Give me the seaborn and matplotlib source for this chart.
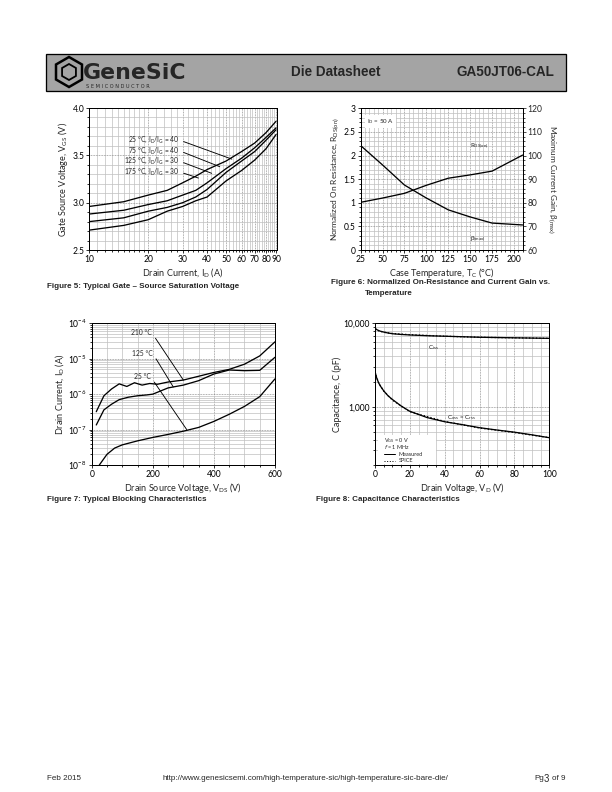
import numpy as np
import pandas as pd
import matplotlib
matplotlib.use('Agg')
import matplotlib.pyplot as plt
import matplotlib.ticker as mticker
from matplotlib.patches import Rectangle, RegularPolygon
import seaborn as sns

#---------------data----------------------------------------
# Figure 5: gate-source saturation voltage vs drain current
id_amps = [10, 15, 20, 25, 30, 35, 40, 50, 60, 70, 80, 90]
vgs_25c = [2.96, 3.01, 3.08, 3.13, 3.21, 3.28, 3.35, 3.44, 3.54, 3.63, 3.74, 3.86]
vgs_75c = [2.88, 2.92, 2.98, 3.02, 3.08, 3.13, 3.21, 3.36, 3.47, 3.58, 3.69, 3.79]
vgs_125c = [2.80, 2.84, 2.91, 2.95, 3.00, 3.06, 3.14, 3.32, 3.44, 3.54, 3.66, 3.77]
vgs_175c = [2.71, 2.76, 2.82, 2.91, 2.96, 3.02, 3.06, 3.23, 3.34, 3.45, 3.57, 3.72]
fig5_labels = ['25 °C, I$_D$/I$_G$ = 40', '75 °C, I$_D$/I$_G$ = 40',
               '125 °C, I$_D$/I$_G$ = 30', '175 °C, I$_D$/I$_G$ = 30']

# Figure 6: normalized on-resistance and current gain vs temperature
case_temp = [25, 50, 75, 100, 125, 150, 175, 210]
rds_on_norm = [1.01, 1.10, 1.20, 1.37, 1.52, 1.59, 1.67, 2.01]
beta_max = [104.2, 96.0, 87.5, 82.0, 77.0, 74.0, 71.4, 70.6]

# Figure 7: blocking characteristics
vds_210 = [15, 40, 65, 90, 115, 140, 165, 190, 215, 250, 300, 350, 400, 450, 500, 550, 600]
id_210 = [3.2e-7, 9e-7, 1.4e-6, 1.95e-6, 1.65e-6, 2.1e-6, 1.8e-6, 2.0e-6, 1.9e-6,
          2.2e-6, 2.5e-6, 3.2e-6, 4.1e-6, 5.0e-6, 7.0e-6, 1.2e-5, 3.0e-5]
vds_125 = [15, 40, 65, 90, 120, 150, 180, 200, 250, 300, 350, 400, 450, 500, 550, 600]
id_125 = [1.35e-7, 3.6e-7, 5.2e-7, 7e-7, 8.2e-7, 9e-7, 9.5e-7, 1.0e-6, 1.5e-6,
          1.8e-6, 2.4e-6, 3.7e-6, 4.8e-6, 4.6e-6, 4.7e-6, 1.1e-5]
vds_25 = [25, 50, 75, 100, 150, 200, 250, 300, 350, 400, 450, 500, 550, 600]
id_25 = [1e-8, 2e-8, 3e-8, 3.7e-8, 4.8e-8, 6e-8, 7.3e-8, 9e-8, 1.15e-7, 1.7e-7,
         2.7e-7, 4.5e-7, 8.5e-7, 2.7e-6]

# Figure 8: capacitance vs drain voltage
vd = [0, 1, 2, 3, 5, 7.5, 10, 15, 20, 30, 40, 50, 60, 70, 80, 90, 100]
ciss_meas = [8700, 8400, 8200, 8050, 7850, 7650, 7500, 7350, 7250, 7100, 7000, 6900, 6800, 6750, 6700, 6650, 6600]
coss_meas = [2650, 2200, 1950, 1780, 1550, 1350, 1220, 1020, 880, 740, 660, 610, 560, 525, 495, 460, 425]
vd_spice = [0, 2, 5, 10, 20, 40, 60, 80, 100]
ciss_spice = [8650, 8150, 7800, 7550, 7300, 7000, 6800, 6700, 6600]
coss_spice = [2600, 1950, 1540, 1200, 870, 665, 555, 490, 425]

#---------------style-----------------
sns.set_style('ticks')
plt.rcParams['font.family'] = ['Lato', 'DejaVu Sans']
plt.rcParams['mathtext.default'] = 'regular'

W, H = 612, 792
fig = plt.figure(figsize=(W / 72, H / 72), dpi=72)


def box(l, t, r, b):
    # pixel box (top-left origin) -> figure fraction
    return [l / W, 1 - b / H, (r - l) / W, (b - t) / H]


def ftext(x, y, s, **kw):
    fig.text(x / W, 1 - y / H, s, **kw)


def style_axes(ax):
    for s in ax.spines.values():
        s.set_color('black')
        s.set_linewidth(1.0)
    ax.tick_params(which='both', direction='out', width=0.8, labelsize=8.5, pad=2, colors='black')
    ax.tick_params(which='major', length=3)
    ax.tick_params(which='minor', length=2)
    ax.grid(which='minor', color='#c0c0c0', lw=0.7, ls='-')
    ax.grid(which='major', color='#888888', lw=0.8, ls=(0, (1, 1)))
    ax.set_axisbelow(True)


line_kw = dict(color='black', lw=1.3, legend=False)
lbl_kw = dict(fontsize=9, labelpad=2)
cap_kw = dict(fontsize=8, fontweight='bold', family='Liberation Sans', va='center')
note = 6.8

#---------------header-----------------
ax_bg = fig.add_axes([0, 0, 1, 1], zorder=-5)
ax_bg.set_xlim(0, W)
ax_bg.set_ylim(H, 0)
ax_bg.axis('off')
ax_bg.add_patch(Rectangle((46, 54), 520, 37, facecolor='#a4a4a4', edgecolor='black', lw=1.3))
ax_bg.add_patch(RegularPolygon((69, 72), 6, radius=15, facecolor='none', edgecolor='black', lw=2.5))
ax_bg.add_patch(RegularPolygon((69, 72), 6, radius=8, facecolor='none', edgecolor='black', lw=1.8))
ftext(83, 73, 'GeneSiC', fontsize=22, fontweight='bold', family='DejaVu Sans', va='center')
ftext(86, 87, 'S E M I C O N D U C T O R', fontsize=5, family='DejaVu Sans', va='center')
ftext(336, 72, 'Die Datasheet', fontsize=13.5, fontweight='bold', family='Liberation Sans', ha='center', va='center')
ftext(554, 72, 'GA50JT06-CAL', fontsize=13.5, fontweight='bold', family='Liberation Sans', ha='right', va='center')

#---------------figure 5-----------------
ax5 = fig.add_axes(box(89.3, 108, 277, 250))
df5 = pd.DataFrame({'I_D': id_amps, '25': vgs_25c, '75': vgs_75c, '125': vgs_125c, '175': vgs_175c})
for col in ['25', '75', '125', '175']:
    sns.lineplot(data=df5, x='I_D', y=col, ax=ax5, **line_kw)
ax5.set_xscale('log')
ax5.set_xlim(10, 91)
ax5.set_ylim(2.5, 4.0)
ax5.xaxis.set_major_locator(mticker.FixedLocator([10, 20, 30, 40, 50, 60, 70, 80, 90]))
ax5.xaxis.set_major_formatter(mticker.FixedFormatter(['10', '20', '30', '40', '50', '60', '70', '80', '90']))
minor5 = [v for v in list(range(11, 20)) + list(range(22, 91, 2)) if v % 10]
ax5.xaxis.set_minor_locator(mticker.FixedLocator(minor5))
ax5.xaxis.set_minor_formatter(mticker.NullFormatter())
ax5.yaxis.set_major_locator(mticker.MultipleLocator(0.5))
ax5.yaxis.set_minor_locator(mticker.MultipleLocator(0.1))
ax5.yaxis.set_major_formatter(mticker.FormatStrFormatter('%.1f'))
style_axes(ax5)
ax5.set_xlabel('Drain Current, I$_D$ (A)', **lbl_kw)
ax5.set_ylabel('Gate Source Voltage, V$_{GS}$ (V)', **lbl_kw)

lab_y5 = [3.662, 3.549, 3.44, 3.327]
end_pts5 = [(53.5, 3.46), (46.4, 3.38), (42.2, 3.31), (36.1, 3.26)]
for lab, ly, (ex, ey) in zip(fig5_labels, lab_y5, end_pts5):
    ax5.annotate(lab, xy=(ex, ey), xytext=(28.8, ly), fontsize=note, ha='right', va='center',
                 arrowprops=dict(arrowstyle='-', lw=0.9, color='black', relpos=(1, 0.5),
                                 shrinkA=2, shrinkB=0))

ftext(47, 287, 'Figure 5: Typical Gate – Source Saturation Voltage', **cap_kw)

#---------------figure 6-----------------
ax6 = fig.add_axes(box(360.7, 108.3, 522.7, 250))
ax6b = ax6.twinx()
df6 = pd.DataFrame({'T_C': case_temp, 'R_DS(on)': rds_on_norm, 'beta': beta_max})
sns.lineplot(data=df6, x='T_C', y='R_DS(on)', ax=ax6, **line_kw)
sns.lineplot(data=df6, x='T_C', y='beta', ax=ax6b, **line_kw)
ax6.set_xlim(25, 210)
ax6.set_ylim(0, 3)
ax6b.set_ylim(60, 120)
ax6.xaxis.set_major_locator(mticker.FixedLocator([25, 50, 75, 100, 125, 150, 175, 200]))
ax6.xaxis.set_minor_locator(mticker.MultipleLocator(5))
ax6.yaxis.set_major_locator(mticker.MultipleLocator(0.5))
ax6.yaxis.set_minor_locator(mticker.MultipleLocator(0.1))
ax6.yaxis.set_major_formatter(mticker.FormatStrFormatter('%g'))
ax6b.yaxis.set_major_locator(mticker.MultipleLocator(10))
ax6b.yaxis.set_minor_locator(mticker.MultipleLocator(2))
style_axes(ax6)
ax6b.tick_params(which='both', direction='out', width=0.8, labelsize=8.5, pad=2)
ax6b.tick_params(which='major', length=3)
ax6b.tick_params(which='minor', length=2)
ax6b.grid(False)
for s in ax6b.spines.values():
    s.set_color('black')
    s.set_linewidth(1.0)
ax6.set_xlabel('Case Temperature, T$_C$ (°C)', **lbl_kw)
ax6.set_ylabel('Normalized On Resistance, R$_{DS(on)}$', fontsize=8.3, labelpad=3)
ax6b.set_ylabel('Maximum Current Gain, β$_{(max)}$', fontsize=8.3, rotation=270, va='bottom', labelpad=3)
ax6.text(32, 2.72, 'I$_D$ = 50 A', fontsize=6.3, va='center',
         bbox=dict(facecolor='white', edgecolor='none', pad=2))
ax6.text(161, 2.19, 'R$_{DS(on)}$', fontsize=6.3, ha='center', va='center')
ax6.text(159, 0.23, 'β$_{(max)}$', fontsize=6.3, ha='center', va='center')

ftext(331, 283, 'Figure 6: Normalized On-Resistance and Current Gain vs.', **cap_kw)
ftext(365, 293, 'Temperature', **cap_kw)

#---------------figure 7-----------------
ax7 = fig.add_axes(box(91.7, 323.3, 275, 465))
sns.lineplot(x=vds_210, y=id_210, ax=ax7, **line_kw)
sns.lineplot(x=vds_125, y=id_125, ax=ax7, **line_kw)
sns.lineplot(x=vds_25, y=id_25, ax=ax7, **line_kw)
ax7.set_yscale('log')
ax7.set_xlim(0, 600)
ax7.set_ylim(1e-8, 1e-4)
ax7.xaxis.set_major_locator(mticker.MultipleLocator(200))
ax7.xaxis.set_minor_locator(mticker.MultipleLocator(50))
ax7.yaxis.set_major_locator(mticker.LogLocator(base=10, numticks=10))
ax7.yaxis.set_minor_locator(mticker.LogLocator(base=10, subs=np.arange(2, 10), numticks=10))
ax7.yaxis.set_minor_formatter(mticker.NullFormatter())
style_axes(ax7)
ax7.set_xlabel('Drain Source Voltage, V$_{DS}$ (V)', **lbl_kw)
ax7.set_ylabel('Drain Current, I$_D$ (A)', **lbl_kw)
fig7_labels = ['210 °C', '125 °C', '25 °C']
lab_pos7 = [(197, 10 ** -4.27), (199, 10 ** -4.84), (193, 10 ** -5.51)]
end_pts7 = [(300, 2.5e-6), (267, 1.6e-6), (311, 1.0e-7)]
for lab, (tx, ty), (ex, ey) in zip(fig7_labels, lab_pos7, end_pts7):
    ax7.annotate(lab, xy=(ex, ey), xytext=(tx, ty), fontsize=note, ha='right', va='center',
                 arrowprops=dict(arrowstyle='-', lw=0.9, color='black', relpos=(1, 0.5),
                                 shrinkA=2, shrinkB=0))

ftext(47, 500, 'Figure 7: Typical Blocking Characteristics', **cap_kw)

#---------------figure 8-----------------
ax8 = fig.add_axes(box(375, 323.3, 549.3, 465))
sns.lineplot(x=vd, y=ciss_meas, ax=ax8, **line_kw)
sns.lineplot(x=vd, y=coss_meas, ax=ax8, **line_kw)
sns.lineplot(x=vd_spice, y=ciss_spice, ax=ax8, color='black', lw=1.3, ls=':', legend=False)
sns.lineplot(x=vd_spice, y=coss_spice, ax=ax8, color='black', lw=1.3, ls=':', legend=False)
ax8.set_yscale('log')
ax8.set_xlim(0, 100)
ax8.set_ylim(200, 10000)
ax8.xaxis.set_major_locator(mticker.MultipleLocator(20))
ax8.xaxis.set_minor_locator(mticker.MultipleLocator(5))
ax8.yaxis.set_major_locator(mticker.FixedLocator([1000, 10000]))
ax8.yaxis.set_major_formatter(mticker.FixedFormatter(['1,000', '10,000']))
ax8.yaxis.set_minor_locator(mticker.FixedLocator([200, 300, 400, 500, 600, 700, 800, 900,
                                                  2000, 3000, 4000, 5000, 6000, 7000, 8000, 9000]))
ax8.yaxis.set_minor_formatter(mticker.NullFormatter())
style_axes(ax8)
ax8.set_xlabel('Drain Voltage, V$_D$ (V)', **lbl_kw)
ax8.set_ylabel('Capacitance, C (pF)', **lbl_kw)
ax8.text(33.4, 5150, 'C$_{iss}$', fontsize=6.3, ha='center', va='center')
ax8.text(49.7, 745, 'C$_{oss}$ = C$_{rss}$', fontsize=6.3, ha='center', va='center')
# legend block
ax8.add_patch(Rectangle((0.02, 0.005), 0.33, 0.205, transform=ax8.transAxes,
                        facecolor='white', edgecolor='none', zorder=1.5))
leg_fs = 5.5
leg_rows = [0.175, 0.125, 0.077, 0.031]
ax8.text(0.05, leg_rows[0], 'V$_{GS}$ = 0 V', transform=ax8.transAxes, fontsize=leg_fs, va='center', zorder=3)
ax8.text(0.05, leg_rows[1], '$\\it{f}$ = 1 MHz', transform=ax8.transAxes, fontsize=leg_fs, va='center', zorder=3)
ax8.plot([0.05, 0.115], [leg_rows[2]] * 2, transform=ax8.transAxes, color='black', lw=1.0, zorder=3)
ax8.text(0.135, leg_rows[2], 'Measured', transform=ax8.transAxes, fontsize=leg_fs, va='center', zorder=3)
ax8.plot([0.05, 0.115], [leg_rows[3]] * 2, transform=ax8.transAxes, color='black', lw=1.0, ls=':', zorder=3)
ax8.text(0.135, leg_rows[3], 'SPICE', transform=ax8.transAxes, fontsize=leg_fs, va='center', zorder=3)

ftext(316, 500, 'Figure 8: Capacitance Characteristics', **cap_kw)

#---------------footer-----------------
foot_kw = dict(fontsize=8, family='Liberation Sans', va='center')
ftext(47, 779, 'Feb 2015', **foot_kw)
ftext(305, 779, 'http://www.genesicsemi.com/high-temperature-sic/high-temperature-sic-bare-die/',
      ha='center', **foot_kw)
ftext(534, 779, 'Pg', **foot_kw)
ftext(544, 778.5, '3', fontsize=9.5, family='Liberation Sans', va='center')
ftext(552, 779, 'of 9', **foot_kw)

fig.savefig('out.png', dpi=72)
